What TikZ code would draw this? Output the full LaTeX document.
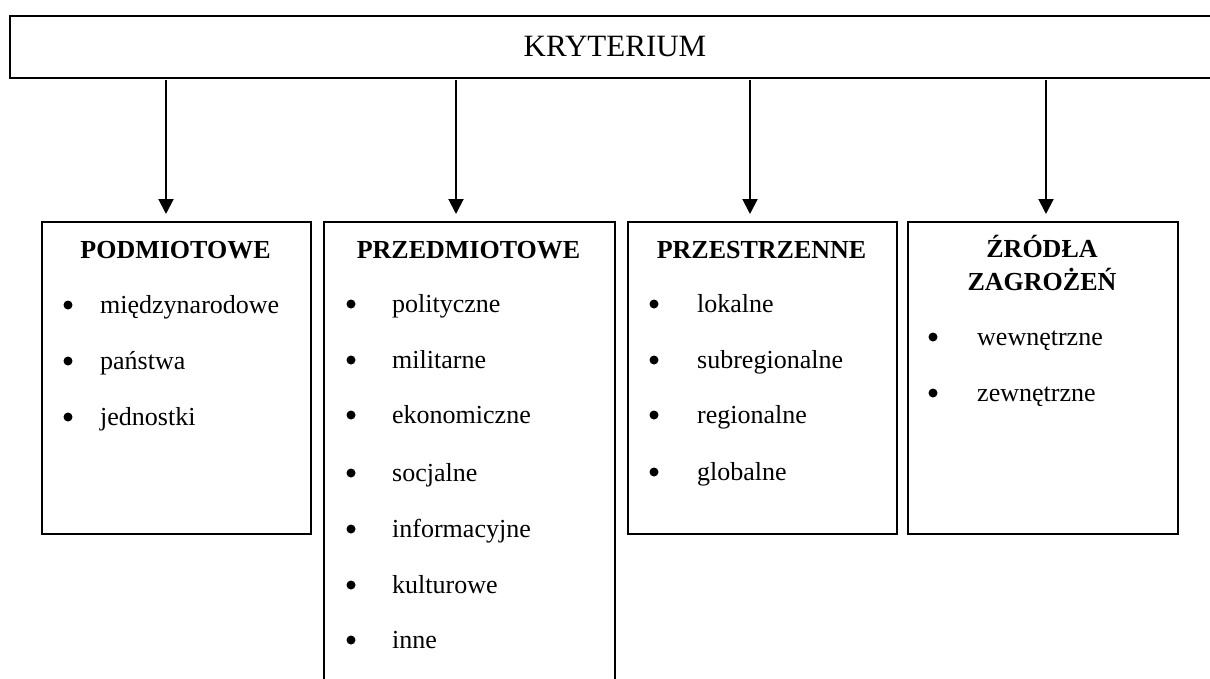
\documentclass[tikz,border=0pt]{standalone}
\usepackage{fontspec}
\setmainfont{Liberation Serif}
\usetikzlibrary{arrows.meta}
\tikzset{
  boxstyle/.style={draw, line width=2pt, inner sep=0pt, rectangle},
  topbox/.style={draw, line width=2pt, inner sep=0pt, rectangle},
  arr/.style={line width=2pt, -{Triangle[length=15pt,width=15pt]}},
  headtext/.style={inner sep=0pt, anchor=base, font=\fontsize{26}{33}\selectfont\bfseries, align=center},
  itemtext/.style={inner sep=0pt, anchor=base west, font=\fontsize{26}{30}\selectfont},
  bul/.style={circle, fill=black, inner sep=0pt, minimum size=9pt},
  toptext/.style={inner sep=0pt, anchor=base, font=\fontsize{31}{36}\selectfont}
}
\begin{document}
\begin{tikzpicture}[x=1pt,y=-1pt]
\useasboundingbox (0,0) rectangle (1210,678);
% top box (right edge beyond the page)
\node[topbox, anchor=north west, minimum width=1230pt, minimum height=62pt] (top) at (9,15) {};
\node[toptext] (kryt) at (615,56) {KRYTERIUM};
% boxes
\node[boxstyle, anchor=north west, minimum width=269pt, minimum height=312pt] (b1) at (41,221) {};
\node[boxstyle, anchor=north west, minimum width=291pt, minimum height=480pt] (b2) at (323,221) {};
\node[boxstyle, anchor=north west, minimum width=269pt, minimum height=312pt] (b3) at (627,221) {};
\node[boxstyle, anchor=north west, minimum width=270pt, minimum height=312pt] (b4) at (907,221) {};
% arrows
\coordinate (a1) at (166,80);
\coordinate (a2) at (456,80);
\coordinate (a3) at (750,80);
\coordinate (a4) at (1046,80);
\coordinate (e1) at (166,214);
\coordinate (e2) at (456,214);
\coordinate (e3) at (750,214);
\coordinate (e4) at (1046,214);
\draw[arr] (a1) -- (e1);
\draw[arr] (a2) -- (e2);
\draw[arr] (a3) -- (e3);
\draw[arr] (a4) -- (e4);
% box 1
\node[headtext] (h1) at (175.5,258) {PODMIOTOWE};
\node[bul] (p1b1) at (68,305) {};
\node[itemtext] (p1t1) at (100,313) {międzynarodowe};
\node[bul] (p1b2) at (68,361) {};
\node[itemtext] (p1t2) at (100,369) {państwa};
\node[bul] (p1b3) at (68,417) {};
\node[itemtext] (p1t3) at (100,425) {jednostki};
% box 2
\node[headtext] (h2) at (468.5,258) {PRZEDMIOTOWE};
\node[bul] (p2b1) at (351,304) {};
\node[itemtext] (p2t1) at (392,312) {polityczne};
\node[bul] (p2b2) at (351,360) {};
\node[itemtext] (p2t2) at (392,368) {militarne};
\node[bul] (p2b3) at (351,415) {};
\node[itemtext] (p2t3) at (392,423) {ekonomiczne};
\node[bul] (p2b4) at (351,473) {};
\node[itemtext] (p2t4) at (392,481) {socjalne};
\node[bul] (p2b5) at (351,529) {};
\node[itemtext] (p2t5) at (392,537) {informacyjne};
\node[bul] (p2b6) at (351,585) {};
\node[itemtext] (p2t6) at (392,593) {kulturowe};
\node[bul] (p2b7) at (351,640) {};
\node[itemtext] (p2t7) at (392,648) {inne};
% box 3
\node[headtext] (h3) at (761.5,258) {PRZESTRZENNE};
\node[bul] (p3b1) at (654,304) {};
\node[itemtext] (p3t1) at (697,312) {lokalne};
\node[bul] (p3b2) at (654,360) {};
\node[itemtext] (p3t2) at (697,368) {subregionalne};
\node[bul] (p3b3) at (654,415) {};
\node[itemtext] (p3t3) at (697,423) {regionalne};
\node[bul] (p3b4) at (654,472) {};
\node[itemtext] (p3t4) at (697,480) {globalne};
% box 4
\node[headtext] (h4a) at (1042,257) {ŹRÓDŁA};
\node[headtext] (h4b) at (1042,290) {ZAGROŻEŃ};
\node[bul] (p4b1) at (933,337) {};
\node[itemtext] (p4t1) at (977,345) {wewnętrzne};
\node[bul] (p4b2) at (933,393) {};
\node[itemtext] (p4t2) at (977,401) {zewnętrzne};
\end{tikzpicture}
\end{document}
